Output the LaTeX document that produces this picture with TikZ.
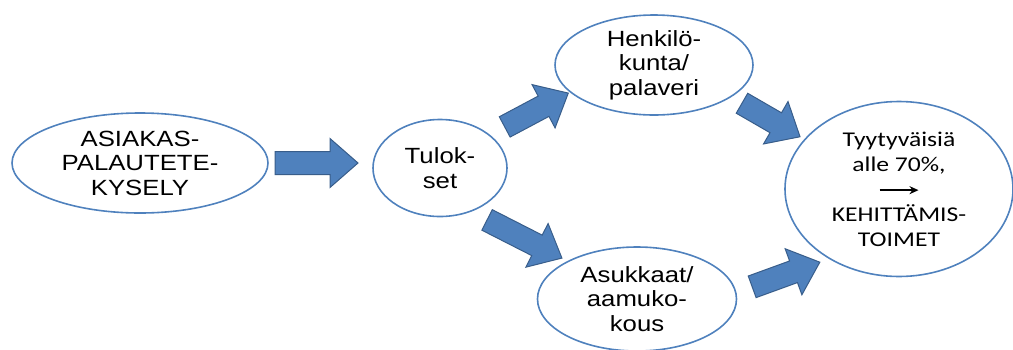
\documentclass[tikz,border=0pt]{standalone}
\usepackage{fontspec}
\setmainfont{Liberation Sans}[FakeStretch=1.17]
\newfontfamily\calib{Carlito}[FakeStretch=1.22]
\usetikzlibrary{shapes.geometric,arrows.meta}
\definecolor{ellblue}{HTML}{4F81BD}
\definecolor{arrfill}{HTML}{4F81BD}
\definecolor{arrdraw}{HTML}{385D8A}
\newcommand{\blockarrow}[3]{%
  \begin{scope}[shift={#1},rotate=#2]
    \filldraw[barrow] (-#3/2,-11.5) -- (#3/2-28,-11.5) -- (#3/2-28,-24.5) -- (#3/2,0)
      -- (#3/2-28,24.5) -- (#3/2-28,11.5) -- (-#3/2,11.5) -- cycle;
  \end{scope}}
\newcommand{\textarrow}{\tikz[baseline=-4pt]\draw[line width=1.5pt,-{Stealth[length=9pt,width=8pt]}] (0pt,0pt) -- (39pt,0pt);}
\begin{document}
\begin{tikzpicture}[x=1pt,y=-1pt,
  ell/.style={draw=ellblue, line width=1.6pt, ellipse, inner sep=0pt, align=center,
    font=\fontsize{22}{24.5}\selectfont},
  barrow/.style={fill=arrfill, draw=arrdraw, line width=1pt, line join=miter}]
\useasboundingbox (0,0) rectangle (1013,349);
\node[ell, minimum width=256, minimum height=100] (ask) at (140,163) {ASIAKAS-\\PALAUTETE-\\KYSELY};
\node[ell, minimum width=134, minimum height=97] (tul) at (440,168) {Tulok-\\set};
\node[ell, minimum width=198, minimum height=100] (hen) at (654,65) {Henkilö-\\kunta/\\palaveri};
\node[ell, minimum width=199, minimum height=104] (asu) at (637,299) {Asukkaat/\\aamuko-\\kous};
\node[ell, minimum width=228, minimum height=175, font=\calib\fontsize{21}{25}\selectfont] (tyy) at (899,189)
  {Tyytyväisiä\\alle 70\%,\\[-2pt]\textarrow\\[2pt]KEHITTÄMIS-\\TOIMET};
\blockarrow{(316.5,163)}{0}{83}
\blockarrow{(536.5,110)}{28}{72}
\blockarrow{(524.5,239)}{-27}{84}
\blockarrow{(771,120)}{-30}{67}
\blockarrow{(786,274.5)}{20}{72}
\end{tikzpicture}
\end{document}
